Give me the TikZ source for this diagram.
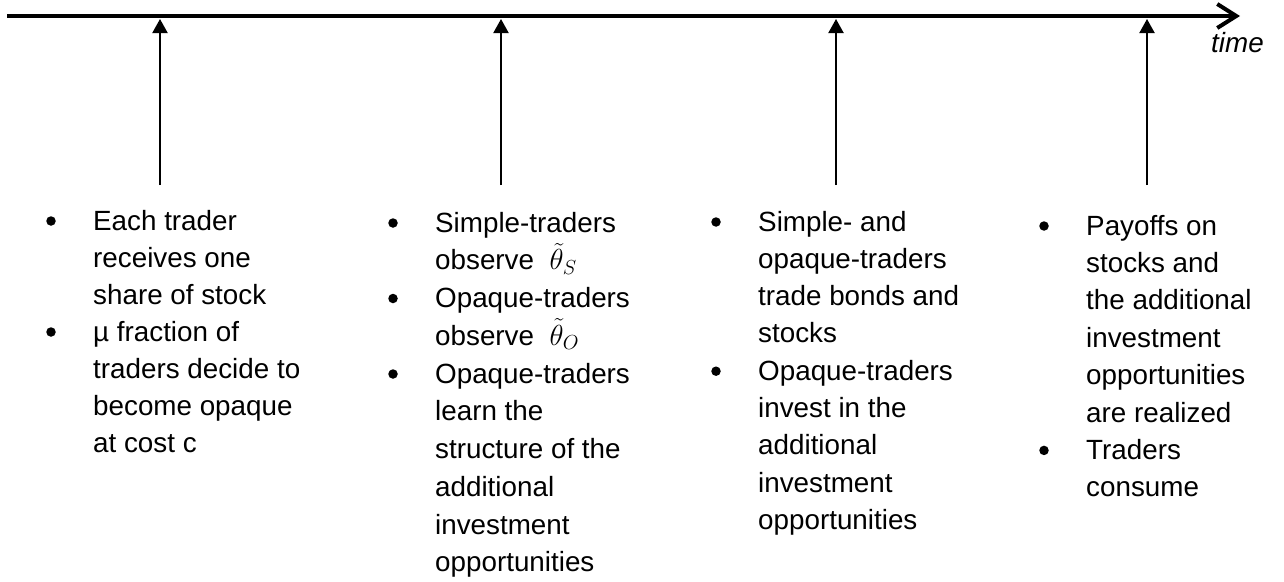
\RequirePackage{fix-cm}
\documentclass[tikz,border=0pt]{standalone}
\usepackage{fontspec}
\setmainfont{Liberation Sans}
\usetikzlibrary{arrows.meta}
\newcommand{\mymathbig}[1]{\smash{{\fontsize{29}{37.5}\selectfont$#1$}}}
\begin{document}
\begin{tikzpicture}[x=1pt,y=-1pt,
  txt/.style={anchor=base west,inner sep=0pt,font=\fontsize{27.8}{37.5}\selectfont},
  bul/.style={circle,fill=black,inner sep=0pt,minimum size=9.5pt},
  timeline/.style={line width=4.5pt,-{Straight Barb[length=19pt,width=24pt,line width=4pt]}},
  evt/.style={line width=2pt,-{Triangle[length=14pt,width=15pt]}}]
\useasboundingbox (0,0) rectangle (1284,581);
% timeline
\coordinate (tstart) at (7,16);
\coordinate (tend) at (1240,16);
\draw[timeline] (tstart) -- (tend);
\node[anchor=base west,inner sep=0pt,font=\fontsize{27.8}{37.5}\selectfont\itshape] (timelbl) at (1211,52) {time};
% event arrows
\foreach \x [count=\k] in {160,501,836,1147}{
  \coordinate (b\k) at (\x,185);
  \coordinate (t\k) at (\x,19);
  \draw[evt] (b\k) -- (t\k);
}
% column 1
\foreach \t [count=\i] in {Each trader,receives one,share of stock,µ fraction of,traders decide to,become opaque,at cost c}{
  \node[txt] (a\i) at (93,{230+37*(\i-1)}) {\t};
}
\node[bul] (ab1) at (51,{230-9}) {};
\node[bul] (ab2) at (51,{230+37*3-9}) {};
% column 2
\foreach \t [count=\i] in {Simple-traders,{observe\ \ \mymathbig{\tilde{\theta}_S}},Opaque-traders,{observe\ \ \mymathbig{\tilde{\theta}_O}},Opaque-traders,learn the,structure of the,additional,investment,opportunities}{
  \node[txt] (c\i) at (435,{232+37.75*(\i-1)}) {\t};
}
\node[bul] (cb1) at (393,{232-9}) {};
\node[bul] (cb2) at (393,{232+37.75*2-9}) {};
\node[bul] (cb3) at (393,{232+37.75*4-9}) {};
% column 3
\foreach \t [count=\i] in {Simple- and,opaque-traders,trade bonds and,stocks,Opaque-traders,invest in the,additional,investment,opportunities}{
  \node[txt] (d\i) at (758,{231+37.3*(\i-1)}) {\t};
}
\node[bul] (db1) at (716,{231-9}) {};
\node[bul] (db2) at (716,{231+37.3*4-9}) {};
% column 4
\foreach \t [count=\i] in {Payoffs on,stocks and,the additional,investment,opportunities,are realized,Traders,consume}{
  \node[txt] (e\i) at (1086,{235+37.4*(\i-1)}) {\t};
}
\node[bul] (eb1) at (1044,{235-9}) {};
\node[bul] (eb2) at (1044,{235+37.4*6-9}) {};
\end{tikzpicture}
\end{document}
